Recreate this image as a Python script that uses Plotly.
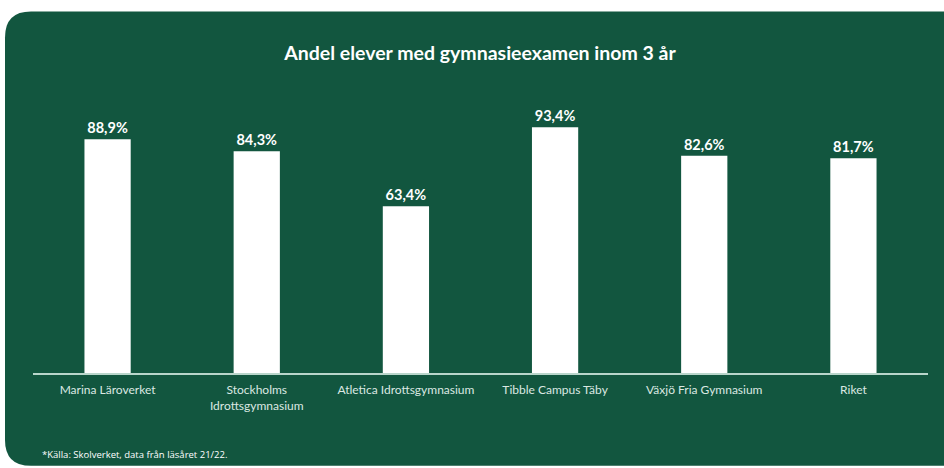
import plotly.graph_objects as go

categories = ["Marina Läroverket", "Stockholms<br>Idrottsgymnasium", "Atletica Idrottsgymnasium",
              "Tibble Campus Täby", "Växjö Fria Gymnasium", "Riket"]
values = [88.9, 84.3, 63.4, 93.4, 82.6, 81.7]
value_labels = [f"{v:.1f}".replace(".", ",") + "%" for v in values]

W, H = 944, 468
L, R, T, B = 33, 928, 109.6, 373
GREEN = "#12563f"

def px(x):
    return (x - L) / (R - L)

def py(y):
    return (B - y) / (B - T)

# rounded panel path in paper coordinates
x0, y0, x1, y1, r = 5, 11, 960, 466, 26
pts = [
    f"M {px(x0 + r)},{py(y0)}",
    f"L {px(x1)},{py(y0)}",
    f"L {px(x1)},{py(y1)}",
    f"L {px(x0 + r)},{py(y1)}",
    f"Q {px(x0)},{py(y1)} {px(x0)},{py(y1 - r)}",
    f"L {px(x0)},{py(y0 + r)}",
    f"Q {px(x0)},{py(y0)} {px(x0 + r)},{py(y0)}",
    "Z",
]
panel_path = " ".join(pts)

fig = go.Figure(go.Bar(
    x=categories, y=values,
    marker=dict(color="white", line=dict(width=0)),
    text=value_labels, textposition="outside", cliponaxis=False,
    textfont=dict(family="Lato", size=14.5, color="white", weight="bold"),
    hoverinfo="skip",
))

fig.update_layout(
    width=W, height=H,
    margin=dict(l=L, r=W - R, t=T, b=H - B, pad=0),
    paper_bgcolor="white", plot_bgcolor="rgba(0,0,0,0)",
    bargap=0.69,
    showlegend=False,
    title=dict(text="<b>Andel elever med gymnasieexamen inom 3 år</b>",
               x=480 / W, xanchor="center", y=1 - 53 / H, yanchor="middle", yref="container",
               font=dict(family="Lato", size=19.5, color="white")),
    xaxis=dict(showgrid=False, zeroline=False, showline=True, linecolor="#b9d6cb", linewidth=1.5,
               ticks="", tickfont=dict(family="Lato", size=12, color="#dbe8e2"), ticklabelstandoff=5),
    yaxis=dict(range=[0, 100], visible=False),
    shapes=[dict(type="path", path=panel_path, xref="paper", yref="paper",
                 fillcolor=GREEN, line=dict(width=0), layer="below")],
    annotations=[dict(text="*Källa: Skolverket, data från läsåret 21/22.", xref="paper", yref="paper",
                      x=px(40), y=py(455), xanchor="left", yanchor="middle", showarrow=False,
                      font=dict(family="Open Sans", size=9.5, color="white"))],
)

fig.write_html("out.html", config={"displayModeBar": False},
               post_script="document.body.style.margin='0';document.body.style.overflow='hidden';")
